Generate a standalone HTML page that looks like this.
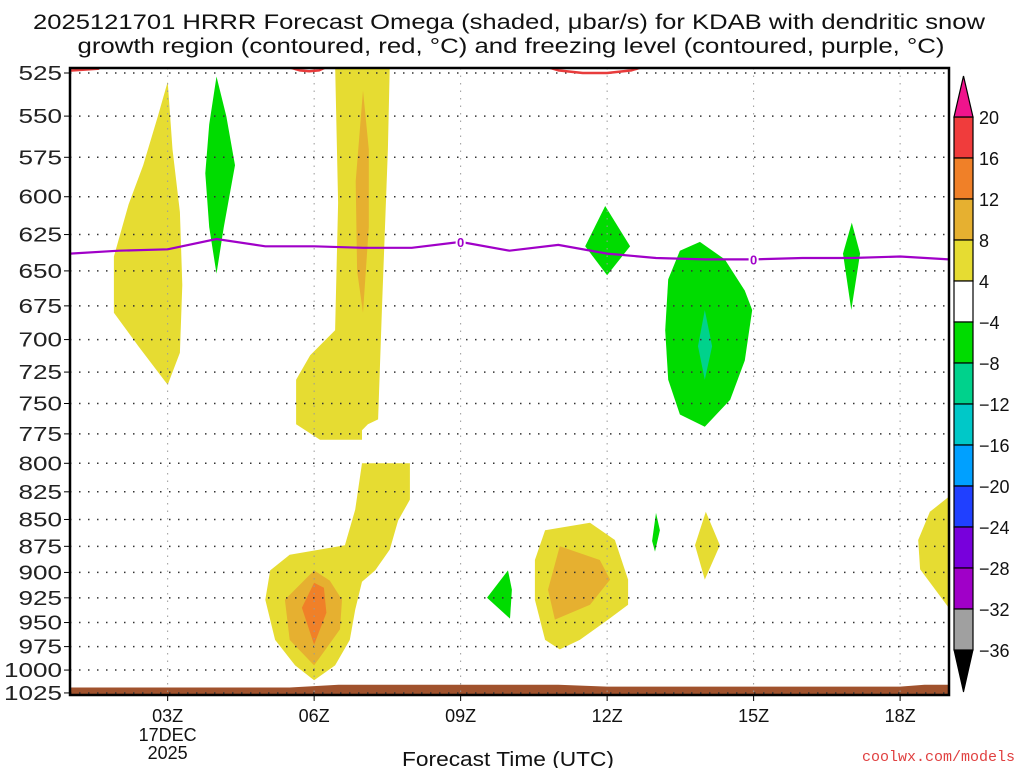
<!DOCTYPE html>
<html><head><meta charset="utf-8"><style>
body{margin:0;background:#fff;}
svg{display:block;font-family:"Liberation Sans",sans-serif;}
</style></head><body>
<svg id="c" width="1024" height="768" viewBox="0 0 1024 768" xmlns="http://www.w3.org/2000/svg">
<text x="509" y="29" font-size="21" text-anchor="middle" fill="#111" textLength="952" lengthAdjust="spacingAndGlyphs">2025121701 HRRR Forecast Omega (shaded, μbar/s) for KDAB with dendritic snow</text>
<text x="511" y="53" font-size="21" text-anchor="middle" fill="#111" textLength="867" lengthAdjust="spacingAndGlyphs">growth region (contoured, red, °C) and freezing level (contoured, purple, °C)</text>
<defs><clipPath id="clip"><rect x="70" y="68" width="879" height="627"/></clipPath></defs>
<g id="shapes" clip-path="url(#clip)"></g>
<g id="grid"></g>
<g id="lines" clip-path="url(#clip)"></g>
<rect x="70" y="68" width="879" height="627" fill="none" stroke="#000" stroke-width="2.5"/>
<g id="yaxis"></g>
<g id="xaxis"></g>
<text x="508" y="766" font-size="20" text-anchor="middle" fill="#111" textLength="212" lengthAdjust="spacingAndGlyphs">Forecast Time (UTC)</text>
<text x="1015" y="761" font-size="15" text-anchor="end" fill="#e04040" font-family="Liberation Mono, monospace">coolwx.com/models</text>
<g id="cbar"></g>
</svg>
<script>
const pressureTicks=[525,550,575,600,625,650,675,700,725,750,775,800,825,850,875,900,925,950,975,1000,1025];
const hourTicks=[3,6,9,12,15,18];
const hourLabels=["03Z","06Z","09Z","12Z","15Z","18Z"];
const cbarLevels=[20,16,12,8,4,-4,-8,-12,-16,-20,-24,-28,-32,-36];
const cbarColors=["#f03c3c","#f08028","#e6b030","#e6dc32","#ffffff","#00dc00","#00d28c","#00c8c8","#00a0ff","#2040ff","#7800dc","#a000c8","#a0a0a0"];
const freezeHours=[1,2,3,4,5,6,7,8,9,10,11,12,13,14,15,16,17,18,19];
const freezeP=[638,636,635,628,633,633,634,634,630,636,632,638,641,642,642,641,641,640,642];
const regions=[
 {c:"#e6dc32",pts:[[3.0,530],[2.8,550],[2.5,580],[2.2,605],[1.9,640],[1.9,680],[2.4,705],[3.0,735],[3.25,710],[3.3,660],[3.25,610],[3.1,570]]},
 {c:"#00dc00",pts:[[4.0,527],[3.85,555],[3.77,585],[3.85,620],[4.0,652],[4.15,620],[4.38,580],[4.2,550]]},
 {c:"#e6dc32",pts:[[6.43,520],[7.55,520],[7.51,570],[7.39,676],[7.31,763],[7.1,767],[6.98,772],[6.98,780],[6.12,780],[5.63,767],[5.63,731],[5.92,712],[6.43,693],[6.49,604]]},
 {c:"#e6b030",pts:[[7.0,535],[6.85,590],[6.88,650],[7.0,680],[7.12,620],[7.12,570]]},
 {c:"#e6dc32",pts:[[6.98,800],[7.96,800],[7.96,832],[7.72,851],[7.55,878],[7.25,898],[6.98,909],[6.84,937],[6.73,968],[6.43,995],[6.0,1011],[5.61,995],[5.2,968],[5.0,927],[5.1,898],[5.5,883],[6.63,874],[6.84,841]]},
 {c:"#e6b030",pts:[[6.0,898],[5.4,927],[5.5,968],[6.0,995],[6.53,957],[6.57,927],[6.32,908]]},
 {c:"#f08028",pts:[[6.0,910],[5.75,935],[6.0,973],[6.25,940],[6.2,915]]},
 {c:"#00dc00",pts:[[9.97,898],[9.54,925],[10.01,946],[10.05,917]]},
 {c:"#e6dc32",pts:[[10.73,860],[11.65,853],[12.16,869],[12.43,907],[12.43,932],[12.02,947],[11.44,968],[11.03,978],[10.73,968],[10.52,927],[10.52,888]]},
 {c:"#e6b030",pts:[[11.03,875],[11.85,888],[12.06,907],[11.65,932],[10.93,947],[10.79,917]]},
 {c:"#00dc00",pts:[[11.96,606],[11.55,633],[12.0,653],[12.47,633]]},
 {c:"#00dc00",pts:[[13.49,636],[13.9,630],[14.41,642],[14.82,664],[14.97,678],[14.82,716],[14.52,747],[14.0,769],[13.49,759],[13.25,731],[13.19,693],[13.25,656]]},
 {c:"#00d28c",pts:[[14.0,678],[13.86,705],[14.0,731],[14.15,705]]},
 {c:"#00dc00",pts:[[13.0,844],[12.92,870],[12.98,880],[13.08,860]]},
 {c:"#e6dc32",pts:[[14.02,843],[13.8,874],[14.0,907],[14.31,874]]},
 {c:"#00dc00",pts:[[17.01,617],[16.83,638],[17.0,678],[17.18,638]]},
 {c:"#e6dc32",pts:[[19.2,830],[18.98,830],[18.61,843],[18.37,869],[18.41,897],[18.98,934],[19.2,934]]},
 {c:"#a0522d",pts:[[0.5,1019],[5.5,1019],[6.5,1016],[11,1016],[12,1018],[18,1018],[18.5,1016],[19.5,1016],[19.5,1040],[0.5,1040]]}
];
const dgzArcs=[[[0.8,524],[1.6,522.5]],[[5.4,521],[5.7,523.5],[5.9,524],[6.1,523.5],[6.3,521]],[[10.7,521],[11.0,523.5],[11.5,525],[12.0,525],[12.5,523.5],[12.8,521]]];
const X=h=>70+(h-1)*48.83;
const Y=p=>73+(Math.log(p)-Math.log(525))*926.6;
const NS="http://www.w3.org/2000/svg";
function mk(tag,attrs,parent){const e=document.createElementNS(NS,tag);for(const k in attrs)e.setAttribute(k,attrs[k]);parent.appendChild(e);return e;}
const gS=document.getElementById('shapes'),gG=document.getElementById('grid'),gL=document.getElementById('lines'),gY=document.getElementById('yaxis'),gX=document.getElementById('xaxis'),gC=document.getElementById('cbar');
regions.forEach((r,i)=>{const e=mk('polygon',{points:r.pts.map(p=>X(p[0]).toFixed(1)+','+Y(p[1]).toFixed(1)).join(' '),fill:r.c},gS);

});
pressureTicks.forEach(p=>{const y=Y(p);
const l=mk('line',{x1:70,x2:949,y1:y,y2:y,stroke:'#333','stroke-width':1.5,'stroke-dasharray':'1.5 7.5'},gG);

const t=mk('line',{x1:64,x2:70,y1:y,y2:y,stroke:'#000','stroke-width':1},gY);

const tx=mk('text',{x:62,y:y+7,'font-size':20,'text-anchor':'end',fill:'#222',textLength:String(p).length*14.5,lengthAdjust:'spacingAndGlyphs'},gY);tx.textContent=p;
});
hourTicks.forEach((h,i)=>{const x=X(h);
const l=mk('line',{x1:x,x2:x,y1:68,y2:695,stroke:'#999','stroke-width':1,'stroke-dasharray':'1.5 6'},gG);

const t=mk('line',{x1:x,x2:x,y1:695,y2:701,stroke:'#000'},gX);

const tx=mk('text',{x:x,y:722,'font-size':18,'text-anchor':'middle',fill:'#111'},gX);tx.textContent=hourLabels[i];
});
[["17DEC",741],["2025",759]].forEach(d=>{const tx=mk('text',{x:X(3),y:d[1],'font-size':18,'text-anchor':'middle',fill:'#111'},gX);tx.textContent=d[0];
});
dgzArcs.forEach(a=>{const e=mk('polyline',{points:a.map(p=>X(p[0])+','+Y(p[1])).join(' '),fill:'none',stroke:'#e83c3c','stroke-width':2.5,'stroke-linejoin':'round'},gL);
});
const fl=mk('polyline',{points:freezeHours.map((h,i)=>X(h).toFixed(1)+','+Y(freezeP[i]).toFixed(1)).join(' '),fill:'none',stroke:'#a000c8','stroke-width':2.2},gL);

[9,15].forEach(h=>{const i=freezeHours.indexOf(h);const x=X(h),y=Y(freezeP[i]);
const b=mk('rect',{x:x-5,y:y-7,width:10,height:13,fill:'#fff'},gL);
const t=mk('text',{x:x,y:y+5,'font-size':13,'text-anchor':'middle',fill:'#a000c8','font-weight':'bold'},gL);t.textContent='0';
});
const cx=954,cw=19,cy0=117,step=41;
cbarColors.forEach((c,i)=>{const r=mk('rect',{x:cx,y:cy0+i*step,width:cw,height:step,fill:c,stroke:'#000','stroke-width':1.2},gC);
});
const tu=mk('polygon',{points:`${cx},${cy0} ${cx+cw},${cy0} ${cx+cw/2},76`,fill:'#f0148c',stroke:'#000','stroke-width':1.2},gC);

const yb=cy0+cbarColors.length*step;
const td=mk('polygon',{points:`${cx},${yb} ${cx+cw},${yb} ${cx+cw/2},692`,fill:'#000',stroke:'#000'},gC);

cbarLevels.forEach((v,i)=>{const t=mk('text',{x:979,y:cy0+i*step+7,'font-size':18,fill:'#111'},gC);t.textContent=v<0?'\u2212'+(-v):v;
});
</script>
</body></html>
